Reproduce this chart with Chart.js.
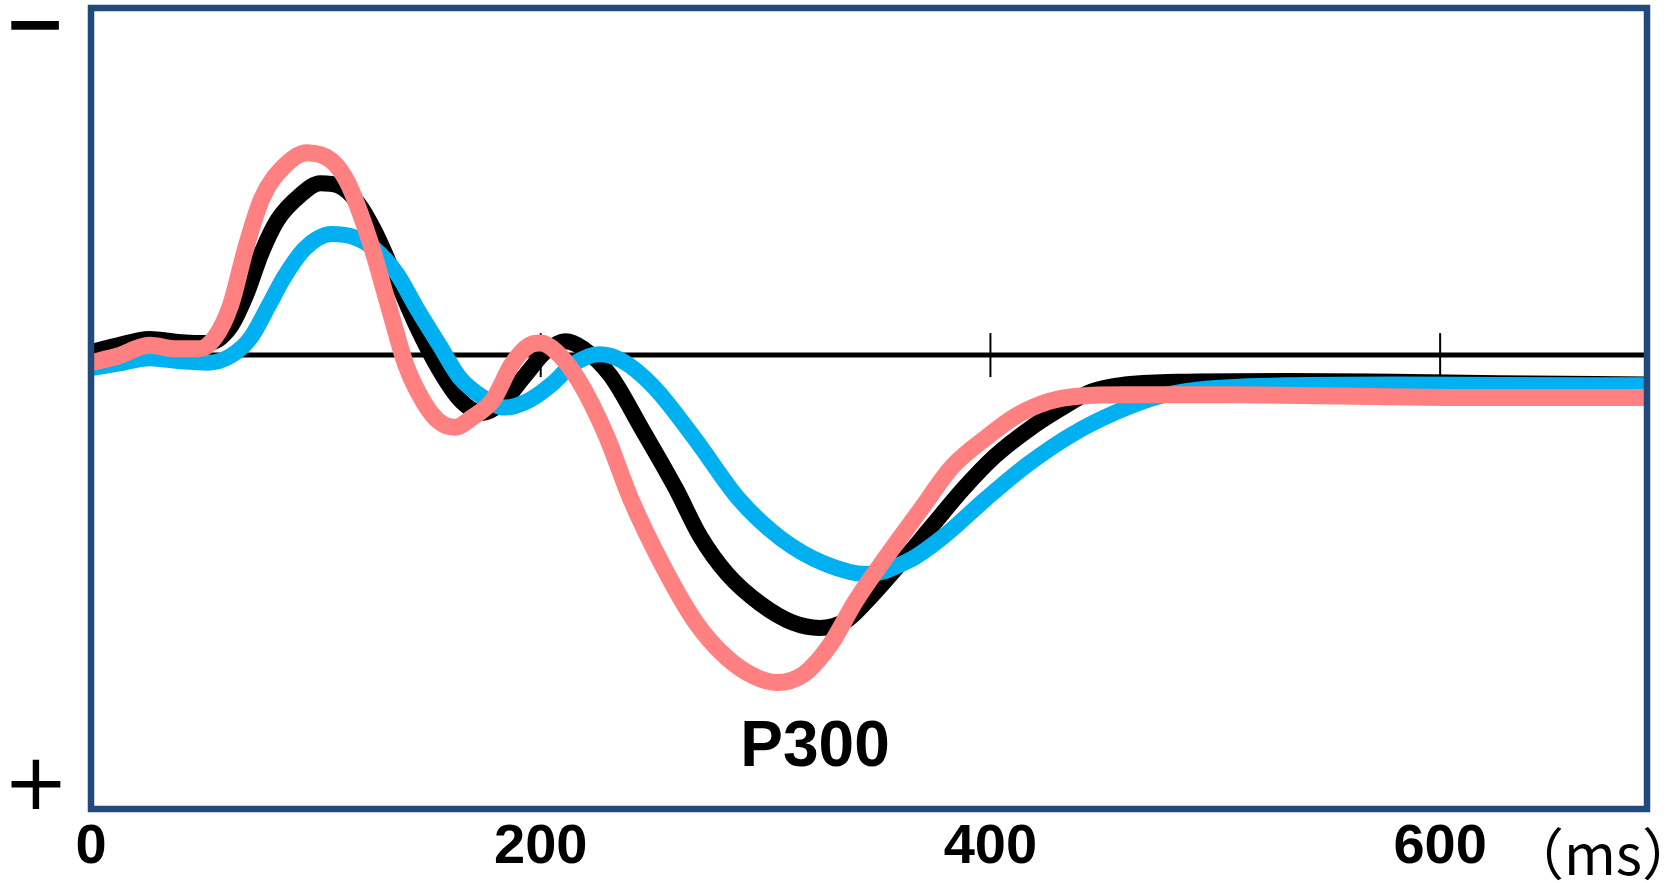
<!DOCTYPE html>
<html>
<head>
<meta charset="utf-8">
<title>P300</title>
<script src="https://cdn.jsdelivr.net/npm/chart.js@4/dist/chart.umd.min.js"></script>
<style>
  html, body { margin: 0; padding: 0; background: #fff; }
  #wrap { width: 1680px; height: 883px; }
</style>
</head>
<body>
<div id="wrap"><canvas id="erpChart" width="1680" height="883"></canvas></div>
<script>
// time (ms) and amplitude (negative = up) for each condition
const blackMs = [0, 12, 26, 40, 52, 62, 69, 76, 83, 93, 102, 110, 119, 126, 136, 145, 155, 164, 174, 183,
  193, 202, 211, 219, 231, 245, 260, 271, 283, 298, 312, 324, 336, 345, 360, 374, 388, 402, 417, 431,
  445, 460, 483, 531, 579, 626, 692];
const blackUv = [-0.07, -0.22, -0.36, -0.29, -0.27, -0.63, -1.35, -2.32, -3.04, -3.59, -3.86, -3.81, -3.40, -2.80, -1.67, -0.63, 0.34, 1.00, 1.30, 1.06,
  0.46, -0.07, -0.31, -0.14, 0.46, 1.66, 2.99, 4.08, 4.92, 5.60, 6.01, 6.13, 5.96, 5.53, 4.68, 3.84, 3.00, 2.27, 1.67, 1.21,
  0.82, 0.66, 0.60, 0.58, 0.60, 0.63, 0.66];

const cyanMs = [0, 12, 26, 40, 52, 62, 71, 79, 86, 95, 107, 117, 126, 136, 145, 155, 164, 174, 184, 195,
  205, 214, 226, 236, 250, 269, 288, 307, 326, 345, 364, 379, 398, 417, 436, 455, 474, 493, 531, 579,
  626, 692];
const cyanUv = [0.29, 0.19, 0.07, 0.14, 0.17, 0.02, -0.39, -1.11, -1.76, -2.39, -2.72, -2.65, -2.39, -1.83, -1.04, -0.22, 0.51, 0.94, 1.18, 1.01,
  0.65, 0.22, -0.02, 0.12, 0.70, 1.91, 3.23, 4.13, 4.68, 4.92, 4.61, 4.08, 3.23, 2.44, 1.79, 1.30, 0.94, 0.77, 0.68, 0.66,
  0.67, 0.68];

const pinkMs = [0, 12, 26, 38, 48, 55, 62, 69, 76, 86, 96, 107, 114, 124, 133, 140, 148, 155, 162, 169,
  179, 187, 195, 200, 207, 217, 229, 240, 255, 269, 283, 295, 305, 317, 329, 340, 355, 369, 383, 398,
  412, 426, 440, 460, 507, 555, 602, 650, 692];
const pinkUv = [0.17, 0.02, -0.22, -0.14, -0.14, -0.39, -1.11, -2.44, -3.52, -4.25, -4.55, -4.37, -3.89, -2.56, -0.99, 0.22, 1.06, 1.50, 1.62, 1.42,
  0.99, 0.22, -0.22, -0.27, -0.07, 0.58, 1.79, 3.23, 4.80, 6.01, 6.81, 7.22, 7.36, 7.17, 6.49, 5.53, 4.44, 3.47, 2.51, 1.86,
  1.35, 1.04, 0.92, 0.89, 0.89, 0.92, 0.95, 0.95, 0.95];

const xTicks = [200, 400, 600];        // small marks on the baseline
const peakLabel = "P300";
const peakAt = { ms: 322, uv: 8.84 };
const unitLabel = "（ms）";

const toPoints = (xs, ys) => xs.map((x, i) => ({ x: x, y: ys[i] }));

const frameColor = "#22497c";

// frame, baseline with ticks, labels
const decorations = {
  id: "decorations",
  beforeDatasetsDraw(chart) {
    const { ctx, chartArea: a, scales: { x, y } } = chart;
    const y0 = y.getPixelForValue(0);
    ctx.save();
    ctx.strokeStyle = "#000";
    ctx.lineWidth = 5;
    ctx.beginPath();
    ctx.moveTo(a.left, y0);
    ctx.lineTo(a.right, y0);
    ctx.stroke();
    ctx.lineWidth = 2;
    xTicks.forEach((t) => {
      const px = x.getPixelForValue(t);
      ctx.beginPath();
      ctx.moveTo(px, y0 - 22);
      ctx.lineTo(px, y0 + 22);
      ctx.stroke();
    });
    ctx.restore();
  },
  afterDraw(chart) {
    const { ctx, chartArea: a, scales: { x, y } } = chart;
    ctx.save();
    ctx.strokeStyle = frameColor;
    ctx.lineWidth = 6.5;
    ctx.strokeRect(a.left, a.top, a.right - a.left, a.bottom - a.top);

    ctx.fillStyle = "#000";
    ctx.textAlign = "center";
    ctx.textBaseline = "middle";
    ctx.font = "bold 64px 'Liberation Sans', Arial, sans-serif";
    ctx.fillText(peakLabel, x.getPixelForValue(peakAt.ms), y.getPixelForValue(peakAt.uv));

    ctx.font = "bold 76px 'DejaVu Sans', sans-serif";
    ctx.fillText("\u2212", 35, 29);
    ctx.font = "78px 'DejaVu Sans', sans-serif";
    ctx.fillText("+", 36, 789);

    ctx.font = "56px 'Noto Sans CJK JP', sans-serif";
    ctx.fillText(unitLabel, 1603, 854);
    ctx.restore();
  }
};

const ctx = document.getElementById("erpChart");

// first dataset is painted last, so pink sits on top
new Chart(ctx, {
  type: "line",
  data: {
    datasets: [
      { label: "pink", data: toPoints(pinkMs, pinkUv), borderColor: "#ff8080", borderWidth: 17 },
      { label: "cyan", data: toPoints(cyanMs, cyanUv), borderColor: "#00b0f0", borderWidth: 16 },
      { label: "black", data: toPoints(blackMs, blackUv), borderColor: "#000000", borderWidth: 16 }
    ]
  },
  options: {
    responsive: false,
    animation: false,
    layout: { padding: { left: 91, right: 33, top: 8, bottom: 0 } },
    elements: {
      point: { radius: 0 },
      line: { cubicInterpolationMode: "monotone", borderJoinStyle: "round", borderCapStyle: "butt" }
    },
    plugins: { legend: { display: false }, tooltip: { enabled: false } },
    scales: {
      x: {
        type: "linear",
        min: 0,
        max: 692,
        grid: { display: false, drawTicks: false },
        border: { display: false },
        ticks: {
          stepSize: 200,
          includeBounds: false,
          maxRotation: 0,
          autoSkip: false,
          padding: 5,
          color: "#000",
          font: { family: "'Liberation Sans', Arial, sans-serif", weight: "bold", size: 56 }
        },
        afterFit: (scale) => { scale.height = 74; }
      },
      y: { display: false, reverse: true, min: -7.8, max: 10.2 }
    }
  },
  plugins: [decorations]
});
</script>
</body>
</html>
